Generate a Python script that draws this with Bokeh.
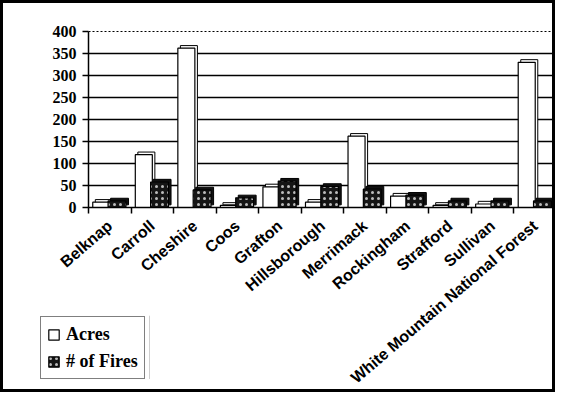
import numpy as np
from bokeh.plotting import figure
from bokeh.layouts import column
from bokeh.models import ColumnDataSource, FixedTicker, Legend, LegendItem, Range1d
from bokeh.embed import file_html
from bokeh.resources import INLINE

counties = ["Belknap", "Carroll", "Cheshire", "Coos", "Grafton", "Hillsborough",
            "Merrimack", "Rockingham", "Strafford", "Sullivan",
            "White Mountain National Forest"]
acres = [12, 120, 362, 5, 47, 12, 162, 26, 5, 8, 330]
fires = [15, 58, 40, 22, 60, 48, 42, 28, 15, 15, 15]
y_ticks = [0, 50, 100, 150, 200, 250, 300, 350, 400]
series_names = ["Acres", "# of Fires"]

idx = np.arange(len(counties))
centers = idx + 0.5
src = ColumnDataSource(dict(
    xa=centers - 0.2, xf=centers + 0.17,
    xa_d=centers - 0.2 + 0.06, xf_d=centers + 0.17 + 0.06,
    acres=acres, fires=fires,
    acres_d=[a + 6 for a in acres], fires_d=[f + 6 for f in fires],
))

acres_style = dict(fill_color="white", line_color="black", line_width=1.2)
fires_style = dict(fill_color="#151515", line_color="black", line_width=1.2,
                   hatch_pattern="dot", hatch_color="#bbbbbb", hatch_scale=6, hatch_weight=1)

p = figure(width=555, height=392, output_backend="svg", toolbar_location=None,
           x_range=Range1d(0, len(counties)), y_range=Range1d(0, 400),
           min_border_left=85, min_border_right=2, min_border_top=28, min_border_bottom=187,
           frame_align=False)
p.styles = {"border": "3px solid black", "box-sizing": "border-box"}

# depth (3D look)
p.vbar(x="xa_d", top="acres_d", bottom=6, width=0.4, source=src,
       fill_color="white", line_color="black", line_width=1)
p.vbar(x="xa", top="acres", width=0.4, source=src, **acres_style)
p.vbar(x="xf_d", top="fires_d", bottom=6, width=0.42, source=src,
       fill_color="#111111", line_color="black", line_width=1)
p.vbar(x="xf", top="fires", width=0.42, source=src, **fires_style)

# x axis
p.xaxis.ticker = FixedTicker(ticks=list(centers), minor_ticks=list(np.arange(len(counties) + 1)))
p.xaxis.major_label_overrides = {float(c): n for c, n in zip(centers, counties)}
p.xaxis.major_label_orientation = 0.71
p.xaxis.major_tick_line_color = None
p.xaxis.minor_tick_out = 6
p.xaxis.minor_tick_in = 0
p.xaxis.minor_tick_line_color = "black"
p.xaxis.minor_tick_line_width = 1.5
p.xaxis.axis_line_color = "black"
p.xaxis.axis_line_width = 1.5
p.xaxis.major_label_text_font = "Liberation Sans"
p.xaxis.major_label_text_font_style = "bold"
p.xaxis.major_label_text_font_size = "16px"
p.xaxis.major_label_text_color = "black"
p.xaxis.major_label_standoff = 10

# y axis
p.yaxis.ticker = FixedTicker(ticks=y_ticks)
p.yaxis.minor_tick_line_color = None
p.yaxis.major_tick_out = 6
p.yaxis.major_tick_in = 0
p.yaxis.major_tick_line_width = 1.5
p.yaxis.axis_line_color = "black"
p.yaxis.axis_line_width = 1.5
p.yaxis.major_label_text_font = "Liberation Serif"
p.yaxis.major_label_text_font_style = "bold"
p.yaxis.major_label_text_font_size = "16px"
p.yaxis.major_label_text_color = "black"
p.yaxis.major_label_standoff = 6

p.xgrid.grid_line_color = None
p.ygrid.grid_line_color = "black"
p.ygrid.grid_line_width = 1.3
p.outline_line_color = "black"
p.outline_line_dash = "2 2"
p.outline_line_width = 1

# legend box (overlaid below-left of the chart)
p2 = figure(width=111, height=64, output_backend="svg", toolbar_location=None,
            x_range=Range1d(0, 1), y_range=Range1d(0, 1), min_border=0,
            x_axis_location=None, y_axis_location=None, frame_align=False)
p2.grid.visible = False
p2.outline_line_color = None
p2.background_fill_alpha = 0
p2.border_fill_alpha = 0
# legend proxies: placed outside the legend plot's visible range
la = p2.vbar(x=[5], top=[1], width=0.1, **acres_style)
lf = p2.vbar(x=[5], top=[1], width=0.1, **fires_style)
legend = Legend(items=[LegendItem(label=series_names[0], renderers=[la]),
                       LegendItem(label=series_names[1], renderers=[lf])],
                location="top_left", orientation="vertical",
                label_text_font="Liberation Serif", label_text_font_style="bold",
                label_text_font_size="18px", label_text_color="black",
                glyph_width=13, glyph_height=13, label_standoff=6, label_height=22,
                spacing=5, padding=6, margin=1,
                border_line_color="black", border_line_width=1.2,
                background_fill_color="white", background_fill_alpha=1)
p2.add_layout(legend, "center")
p2.margin = (-77, 0, 0, 39)

layout = column(p, p2, spacing=0)
open("out.html", "w").write(file_html(layout, INLINE))
